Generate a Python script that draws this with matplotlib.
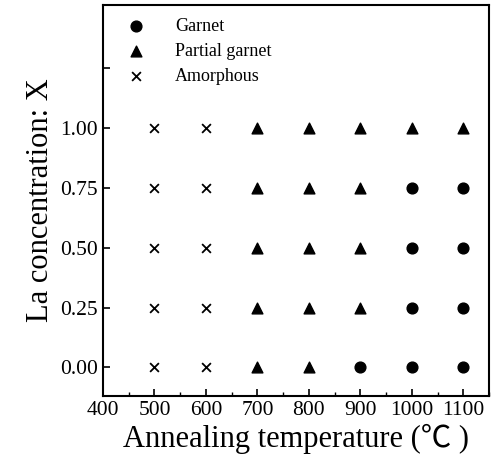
import matplotlib
matplotlib.use('Agg')
import matplotlib.pyplot as plt
from matplotlib.ticker import MultipleLocator, FixedLocator

plt.rcParams['font.family'] = ['Liberation Serif', 'Noto Sans CJK SC', 'DejaVu Sans']

# annealing temperature (C) and La concentration X for each phase
garnet_T = [900, 1000, 1100, 1000, 1100, 1000, 1100, 1000, 1100]
garnet_X = [0.00, 0.00, 0.00, 0.25, 0.25, 0.50, 0.50, 0.75, 0.75]

partial_T = [700, 800, 700, 800, 900, 700, 800, 900, 700, 800, 900, 700, 800, 900, 1000, 1100]
partial_X = [0.00, 0.00, 0.25, 0.25, 0.25, 0.50, 0.50, 0.50, 0.75, 0.75, 0.75, 1.00, 1.00, 1.00, 1.00, 1.00]

amorph_T = [500, 600] * 5
amorph_X = [0.00, 0.00, 0.25, 0.25, 0.50, 0.50, 0.75, 0.75, 1.00, 1.00]

fig = plt.figure(figsize=(4.95, 4.59), dpi=100)
ax = fig.add_axes([0.208, 0.137, 0.780, 0.852])

ax.scatter(garnet_T, garnet_X, marker='o', s=60, color='black', label='Garnet')
ax.scatter(partial_T, partial_X, marker='^', s=60, color='black', label='Partial garnet')
ax.scatter(amorph_T, amorph_X, marker='x', s=40, color='black', linewidths=1.3, label='Amorphous')

ax.set_xlim(400, 1150)
ax.set_ylim(-0.12, 1.515)
ax.xaxis.set_major_locator(MultipleLocator(100))
ax.xaxis.set_minor_locator(MultipleLocator(50))
ax.yaxis.set_major_locator(FixedLocator([0, 0.25, 0.5, 0.75, 1.0, 1.25]))
ax.set_yticklabels(['0.00', '0.25', '0.50', '0.75', '1.00', ''])

ax.tick_params(axis='both', which='major', direction='in', length=5, width=1.2,
               labelsize=15.5, top=False, right=False)
ax.tick_params(axis='x', which='minor', direction='in', length=3, width=1.0, top=False)
for s in ax.spines.values():
    s.set_linewidth(1.5)

ax.set_xlabel('Annealing temperature (℃ )', fontsize=22, labelpad=3)
ax.set_ylabel('La concentration: X', fontsize=22, labelpad=4)

ax.legend(loc='upper left', frameon=False, fontsize=13, handletextpad=1.2,
          borderaxespad=0.3, labelspacing=0.45, bbox_to_anchor=(0.005, 1.0))

fig.savefig('out.png', dpi=100)
